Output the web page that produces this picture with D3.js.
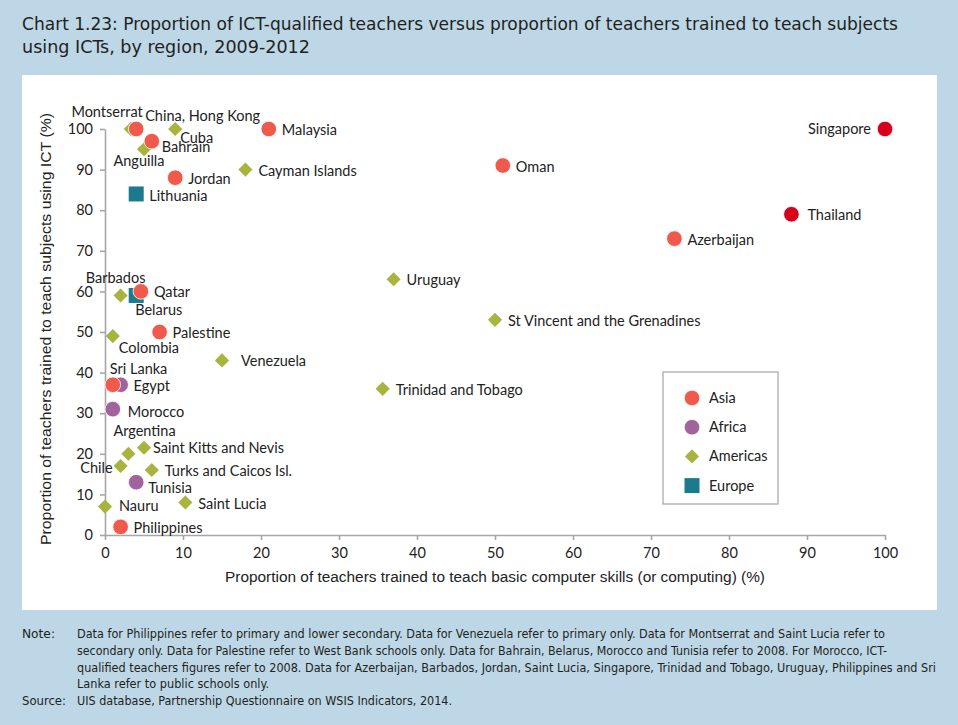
<!DOCTYPE html>
<html><head><meta charset="utf-8">
<script src="https://cdnjs.cloudflare.com/ajax/libs/d3/7.8.5/d3.min.js"></script>
<style>html,body{margin:0;padding:0;background:#bdd7e7;}svg{display:block;}</style>
</head><body>
<script>
// ---- data ----
const regions = ["Asia", "Africa", "Americas", "Europe"];
const asia = [
  ["China, Hong Kong", 4.0, 100], ["Bahrain", 6.0, 97], ["Malaysia", 21, 100],
  ["Jordan", 9.0, 88], ["Oman", 51, 91], ["Singapore", 100, 100],
  ["Thailand", 88, 79], ["Azerbaijan", 73, 73], ["Qatar", 4.6, 60],
  ["Palestine", 7, 50], ["Sri Lanka", 1, 37], ["Philippines", 2, 2]
];
const africa = [["Egypt", 2, 37], ["Morocco", 1, 31], ["Tunisia", 4, 13]];
const americas = [
  ["Montserrat", 3.3, 100], ["Cuba", 9, 100], ["Anguilla", 5, 95],
  ["Cayman Islands", 18, 90], ["Barbados", 2, 59], ["Colombia", 1, 49],
  ["Venezuela", 15, 43], ["Uruguay", 37, 63], ["St Vincent and the Grenadines", 50, 53],
  ["Trinidad and Tobago", 35.6, 36], ["Argentina", 3, 20], ["Saint Kitts and Nevis", 5, 21.5],
  ["Chile", 2, 17], ["Turks and Caicos Isl.", 6, 16], ["Nauru", 0, 7], ["Saint Lucia", 10.3, 8]
];
const europe = [["Lithuania", 4, 84], ["Belarus", 4, 59]];
const highlighted = ["Singapore", "Thailand"];
const xTicks = [0, 10, 20, 30, 40, 50, 60, 70, 80, 90, 100];
const yTicks = [0, 10, 20, 30, 40, 50, 60, 70, 80, 90, 100];
const titleLines = [
  "Chart 1.23: Proportion of ICT-qualified teachers versus proportion of teachers trained to teach subjects",
  "using ICTs, by region, 2009-2012"
];
const xTitle = "Proportion of teachers trained to teach basic computer skills (or computing) (%)";
const yTitle = "Proportion of teachers trained to teach subjects using ICT (%)";
const noteLines = [
  "Data for Philippines refer to primary and lower secondary. Data for Venezuela refer to primary only. Data for Montserrat and Saint Lucia refer to",
  "secondary only. Data for Palestine refer to West Bank schools only. Data for Bahrain, Belarus, Morocco and Tunisia refer to 2008. For Morocco, ICT-",
  "qualified teachers figures refer to 2008. Data for Azerbaijan, Barbados, Jordan, Saint Lucia, Singapore, Trinidad and Tobago, Uruguay, Philippines and Sri",
  "Lanka refer to public schools only."
];
const sourceLine = "UIS database, Partnership Questionnaire on WSIS Indicators, 2014.";

// ---- label placement (offsets from marker, px) ----
const labelPos = {
  "Montserrat": [12, -17, "end"], "China, Hong Kong": [9, -13, "start"], "Cuba": [5, 9, "start"],
  "Bahrain": [10, 6, "start"], "Anguilla": [-5, 12, "middle"], "Singapore": [-14, 0, "end"],
  "Thailand": [16, 1, "start"], "Lithuania": [13, 2, "start"], "Barbados": [-5, -18, "middle"],
  "Belarus": [-1, 14, "start"], "Colombia": [6, 12, "start"], "Venezuela": [19, 1, "start"],
  "Sri Lanka": [-3, -16, "start"], "Morocco": [15, 3, "start"], "Argentina": [-15, -23, "start"],
  "Saint Kitts and Nevis": [9, 0, "start"], "Chile": [-8, 2, "end"], "Tunisia": [12, 6, "start"],
  "Nauru": [14, -1, "start"]
};

const W = 958, H = 725;
const svg = d3.select("body").append("svg").attr("width", W).attr("height", H);
svg.append("rect").attr("width", W).attr("height", H).attr("fill", "#bdd7e7");
svg.append("rect").attr("x", 22).attr("y", 75).attr("width", 915).attr("height", 535).attr("fill", "#ffffff");

// title
svg.append("g").selectAll("text").data(titleLines).join("text")
  .attr("x", 22).attr("y", (d, i) => 30 + i * 23)
  .attr("font-family", "'DejaVu Sans Condensed', 'DejaVu Sans', sans-serif")
  .attr("font-size", 17.5).attr("fill", "#231f20")
  .attr("textLength", (d, i) => i === 0 ? 876 : 288).attr("lengthAdjust", "spacingAndGlyphs")
  .text(d => d);

const x = d3.scaleLinear().domain([0, 100]).range([105, 885]);
const y = d3.scaleLinear().domain([0, 100]).range([535, 129]);
const axisColor = "#a6a6a6";

const gx = svg.append("g").attr("transform", "translate(0,535)")
  .call(d3.axisBottom(x).tickValues(xTicks).tickSize(5).tickSizeOuter(0).tickPadding(8));
const gy = svg.append("g").attr("transform", "translate(105,0)")
  .call(d3.axisLeft(y).tickValues(yTicks).tickSize(5).tickSizeOuter(0).tickPadding(7));
[gx, gy].forEach(g => {
  g.select(".domain").attr("stroke", axisColor).attr("stroke-width", 1.6);
  g.selectAll(".tick line").attr("stroke", axisColor).attr("stroke-width", 1.6);
  g.selectAll(".tick text").attr("font-family", "Lato, 'Open Sans', sans-serif")
    .attr("font-size", 14.5).attr("fill", "#222");
});

svg.append("text").attr("x", 495).attr("y", 582).attr("text-anchor", "middle")
  .attr("font-family", "'Liberation Sans', Arial, sans-serif").attr("font-size", 15.3).attr("fill", "#222")
  .attr("textLength", 540).attr("lengthAdjust", "spacingAndGlyphs")
  .text(xTitle);
svg.append("text").attr("transform", "translate(51,329) rotate(-90)").attr("text-anchor", "middle")
  .attr("font-family", "'Liberation Sans', Arial, sans-serif").attr("font-size", 15.3).attr("fill", "#222")
  .attr("textLength", 432).attr("lengthAdjust", "spacingAndGlyphs")
  .text(yTitle);

const colors = { Asia: "#ef5a4c", Africa: "#a0639c", Americas: "#a7b43e", Europe: "#1c7a8e" };
const hiColor = "#d7001c";

function drawMarker(g, region, cx, cy, fill) {
  if (region === "Americas") {
    g.append("path").attr("d", d3.symbol(d3.symbolSquare, 100)())
      .attr("transform", `translate(${cx},${cy}) rotate(45)`).attr("fill", fill);
  } else if (region === "Europe") {
    g.append("rect").attr("x", cx - 7.5).attr("y", cy - 7.5).attr("width", 15).attr("height", 15).attr("fill", fill);
  } else {
    g.append("circle").attr("cx", cx).attr("cy", cy).attr("r", 7.8).attr("fill", fill)
      .attr("stroke", "#fff").attr("stroke-width", 0.8);
  }
}

const series = [["Africa", africa], ["Europe", europe], ["Americas", americas], ["Asia", asia]];
const markG = svg.append("g");
const labG = svg.append("g").attr("font-family", "Lato, 'Open Sans', sans-serif").attr("font-size", 14.5).attr("fill", "#222");
series.forEach(([reg, arr]) => {
  arr.forEach(([name, vx, vy]) => {
    const cx = x(vx), cy = y(vy);
    const fill = highlighted.includes(name) ? hiColor : colors[reg];
    drawMarker(markG, reg, cx, cy, fill);
    const p = labelPos[name] || [13, 1, "start"];
    labG.append("text").attr("x", cx + p[0]).attr("y", cy + p[1]).attr("dy", "0.35em")
      .attr("text-anchor", p[2]).text(name);
  });
});

// legend
const lg = svg.append("g");
lg.append("rect").attr("x", 663).attr("y", 372).attr("width", 115).attr("height", 132)
  .attr("fill", "#fff").attr("stroke", "#a6a6a6").attr("stroke-width", 1.2);
regions.forEach((r, i) => {
  const cy = 398 + i * 29.2;
  drawMarker(lg, r, 692, cy, colors[r]);
  lg.append("text").attr("x", 709).attr("y", cy).attr("dy", "0.35em")
    .attr("font-family", "Lato, 'Open Sans', sans-serif").attr("font-size", 14.5).attr("fill", "#222").text(r);
});

// notes
const nf = "'DejaVu Sans Condensed', 'Liberation Sans', sans-serif";
const noteLens = [808, 810, 859, 192];
svg.append("text").attr("x", 22).attr("y", 638).attr("font-family", nf).attr("font-size", 12).attr("fill", "#231f20")
  .attr("textLength", 33).attr("lengthAdjust", "spacingAndGlyphs").text("Note:");
svg.append("g").selectAll("text").data(noteLines).join("text")
  .attr("x", 77).attr("y", (d, i) => 638 + i * 16.8)
  .attr("font-family", nf).attr("font-size", 12).attr("fill", "#231f20")
  .attr("textLength", (d, i) => noteLens[i]).attr("lengthAdjust", "spacingAndGlyphs")
  .text(d => d);
svg.append("text").attr("x", 22).attr("y", 705).attr("font-family", nf).attr("font-size", 12).attr("fill", "#231f20")
  .attr("textLength", 44).attr("lengthAdjust", "spacingAndGlyphs").text("Source:");
svg.append("text").attr("x", 77).attr("y", 705).attr("font-family", nf).attr("font-size", 12).attr("fill", "#231f20")
  .attr("textLength", 375).attr("lengthAdjust", "spacingAndGlyphs").text(sourceLine);
</script>
</body></html>
